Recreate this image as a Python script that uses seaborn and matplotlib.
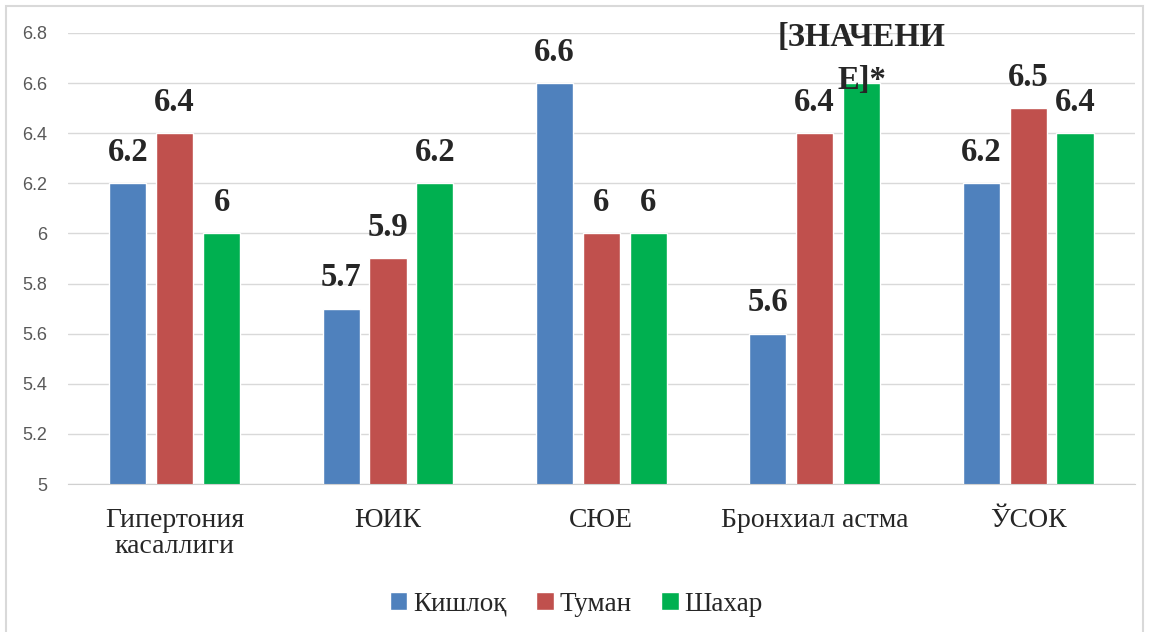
import pandas as pd
import seaborn as sns
import numpy as np
import matplotlib.pyplot as plt
from matplotlib.patches import Rectangle

# data
categories = ["Гипертония\nкасаллиги", "ЮИК", "СЮЕ", "Бронхиал астма", "ЎСОК"]
series = ["Кишлоқ", "Туман", "Шахар"]
kishloq = [6.2, 5.7, 6.6, 5.6, 6.2]
tuman = [6.4, 5.9, 6.0, 6.4, 6.5]
shahar = [6.0, 6.2, 6.0, 6.6, 6.4]
colors = ["#4F81BD", "#C0504D", "#00B050"]
placeholder = ["[ЗНАЧЕНИ", "Е]*"]   # label shown instead of 6.6 (Шахар, Бронхиал астма)

df = pd.DataFrame({"cat": categories * 3,
                   "grp": np.repeat(series, len(categories)),
                   "val": kishloq + tuman + shahar})

sns.set_style("white")
plt.rcParams['font.family'] = ['Liberation Serif', 'DejaVu Serif']

fig = plt.figure(figsize=(11.52, 6.32), dpi=100)
ax = fig.add_axes([0.059, 0.234, 0.926, 0.714])

sns.barplot(data=df, x="cat", y="val", hue="grp", palette=colors,
            width=0.66, gap=0.21, ax=ax, legend=True, saturation=1)

yt = np.arange(5, 6.81, 0.2)
ax.set_ylim(5, 6.8)
ax.set_yticks(yt)
ax.set_yticklabels([f"{t:g}" for t in yt],
                   family=['Liberation Sans'], fontsize=13, color="#595959")
ax.yaxis.grid(True, color="#d9d9d9", linewidth=1)
ax.set_axisbelow(True)
ax.tick_params(axis="both", length=0)
ax.tick_params(axis="y", pad=15)
ax.tick_params(axis="x", pad=17)
for lab in ax.get_xticklabels():
    lab.set_fontsize(20)
    lab.set_linespacing(1.05)
for s in ["left", "right", "top"]:
    ax.spines[s].set_visible(False)
ax.spines["bottom"].set_color("#d0d0d0")
ax.set_xlabel("")
ax.set_ylabel("")

# value labels
all_vals = [kishloq, tuman, shahar]
for i, cont in enumerate(ax.containers):
    labs = [f"{v:g}" for v in all_vals[i]]
    if i == 2:
        labs[3] = ""
        bar = cont.patches[3]
        xc = bar.get_x() + bar.get_width() / 2
        for txt, dy in zip(placeholder, [27, -4]):
            ax.annotate(txt, (xc, bar.get_height()), xytext=(0, dy),
                        textcoords="offset points", ha="center", va="baseline",
                        fontsize=23.5, fontweight="bold")
    ax.bar_label(cont, labels=labs, padding=11, fontsize=23.5, fontweight="bold")

ax.legend(handles=ax.get_legend().legend_handles, labels=series,
          loc="center", bbox_to_anchor=(0.5, 0.044), bbox_transform=fig.transFigure,
          ncol=3, frameon=False, fontsize=19.5, handlelength=0.65, handleheight=0.65,
          handletextpad=0.2, columnspacing=1.1)

fig.patches.append(Rectangle((6 / 1152, -0.05), 1137 / 1152, 1 - 6 / 632 + 0.05,
                             transform=fig.transFigure, fill=False,
                             edgecolor="#d9d9d9", linewidth=1.5))

fig.savefig("out.png", dpi=100)
